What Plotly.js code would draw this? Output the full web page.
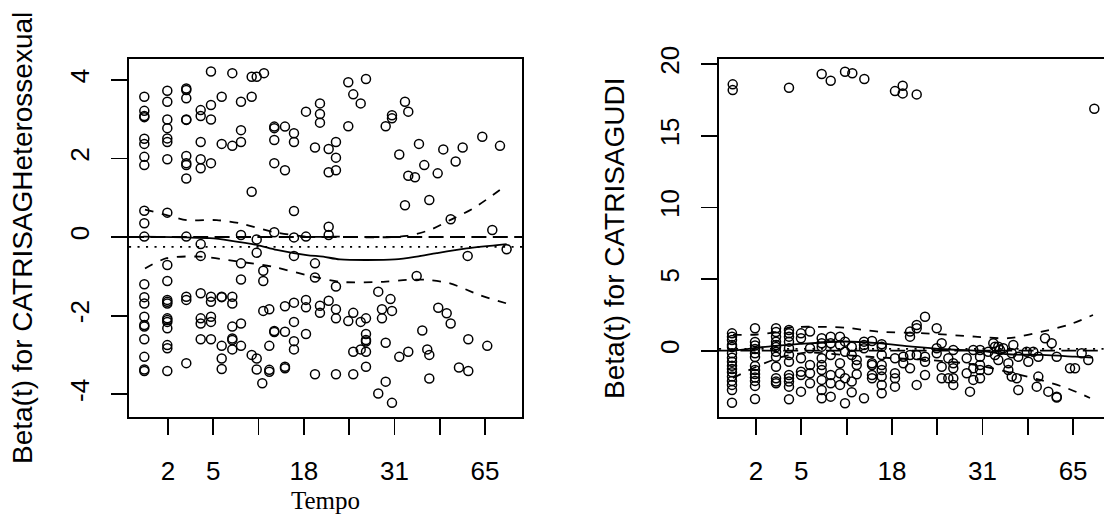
<!DOCTYPE html>
<html>
<head>
<meta charset="utf-8">
<script src="https://cdn.plot.ly/plotly-3.0.1.min.js"></script>
<style>html,body{margin:0;padding:0;background:#fff;}#chart{width:1104px;height:527px;}</style>
</head>
<body>
<div id="chart"></div>
<script>
// ---------- tick labels (time scale, km-transformed positions) ----------
const tickPos = [1, 2, 3, 4, 5, 6, 7, 8];
const tickLab = ["2", "5", "", "18", "", "31", "", "65"];

// ---------- Panel A: CATRISAGHeterossexual ----------
const colXA = [0.477,0.985,1.404,1.722,1.949,2.186,2.420,2.612,2.848,2.959,3.082,3.104,3.120,3.237,3.347,3.583,3.782,4.047,4.246,4.356,4.548,4.709,4.981,5.091,5.255,5.372,5.643,5.725,5.807,5.913,5.946,6.107,6.233,6.306,6.454,6.491,6.542,6.615,6.659,6.725,6.770,6.955,6.968,7.079,7.154,7.242,7.352,7.425,7.507,7.617,7.631,7.940,8.050,8.161,8.331,8.478];
const colYA = [
 [3.57,3.21,3.08,3.05,2.50,2.37,2.04,1.83,0.67,0.35,0.01,-1.20,-1.53,-1.69,-2.03,-2.24,-2.28,-2.60,-3.05,-3.37,-3.41],
 [3.72,3.44,2.99,2.77,2.51,2.42,1.98,0.62,-0.71,-1.12,-1.60,-1.65,-1.69,-2.07,-2.11,-2.16,-2.32,-2.75,-2.83,-3.41],
 [3.78,3.74,3.53,2.99,2.98,2.06,1.88,1.83,1.49,0.01,-1.52,-1.60,-3.21],
 [3.23,3.08,2.42,1.98,1.75,-0.18,-0.48,-1.43,-2.07,-2.20,-2.60],
 [4.21,3.36,2.99,1.88,-1.52,-1.65,-2.03,-2.16,-2.60],
 [3.57,2.37,-1.52,-1.53,-2.77,-3.09,-3.36],
 [4.17,2.32,-1.52,-1.69,-2.28,-2.58,-2.62,-2.86],
 [3.44,2.72,2.42,0.05,-0.67,-1.08,-2.20,-2.77],
 [4.08,3.57,1.15,-3.00],
 [4.08,-0.06,-0.40,-3.09,-3.37],
 [-3.72],
 [-0.86,-1.12,-1.88],
 [4.17],
 [-1.84,-2.77,-3.38,-3.43],
 [2.81,2.77,2.47,1.88,0.12,-2.39,-2.42],
 [2.81,1.70,-1.76,-2.41,-3.30,-3.34],
 [2.64,2.42,0.66,-0.01,-0.48,-1.67,-2.16,-2.65,-2.86],
 [3.19,0.01,-1.60,-1.79,-2.47],
 [2.28,-0.67,-1.03,-3.49],
 [3.40,3.13,2.91,-1.75,-1.93],
 [2.24,1.65,0.26,0.05,-1.62],
 [2.42,2.02,1.70,-1.26,-1.84,-2.07,-3.49],
 [3.94,2.82,-2.14],
 [3.63,-1.93,-2.92,-3.49],
 [3.40,-2.16,-2.86],
 [4.02,-2.07,-2.47,-2.62,-2.66,-2.92,-3.30],
 [-1.39,-3.98],
 [-1.84,-2.07],
 [2.82,-2.69,-3.68],
 [-1.58],
 [3.10,3.02,-1.88,-4.22],
 [2.10,-3.05],
 [3.44,0.81],
 [3.19,1.56,-2.92],
 [1.52],
 [-0.99],
 [2.37],
 [-2.38],
 [1.83],
 [-2.86],
 [0.94,-3.00,-3.60],
 [1.62],
 [-1.80],
 [2.23],
 [-1.94],
 [0.45,-2.20],
 [1.92],
 [-3.32],
 [2.28],
 [-0.48],
 [-2.60,-3.41],
 [2.55],
 [-2.77],
 [0.18],
 [2.32],
 [-0.31]
];
const fitXA   = [0.455,1.413,1.927,2.369,2.958,3.400,4.063,4.429,4.798,6.012,6.491,6.933,7.595,8.478];
const fitYA   = [0.01,-0.01,-0.03,-0.09,-0.20,-0.33,-0.46,-0.50,-0.57,-0.57,-0.50,-0.41,-0.29,-0.18];
const upXA    = [0.492,0.971,1.413,2.075,2.590,3.325,4.063,4.798,5.533,6.271,6.785,7.227,7.741,8.478];
const upYA    = [0.70,0.56,0.43,0.43,0.35,0.13,0.01,0.01,-0.01,0.03,0.18,0.43,0.73,1.32];
const loXA    = [0.492,0.971,1.707,2.590,3.325,4.063,4.798,5.754,6.271,6.712,7.227,7.889,8.478];
const loYA    = [-0.80,-0.54,-0.50,-0.63,-0.76,-0.97,-1.14,-1.14,-1.09,-1.09,-1.18,-1.48,-1.69];
const coefA = -0.25;

// ---------- Panel B: CATRISAGUDI ----------
const colXB = [0.470,0.486,0.978,1.442,1.728,1.993,2.192,2.450,2.649,2.854,2.965,3.113,3.126,3.223,3.384,3.391,3.561,3.775,4.068,4.238,4.252,4.400,4.547,4.731,4.989,5.099,5.245,5.355,5.651,5.724,5.797,5.945,6.128,6.238,6.276,6.349,6.386,6.459,6.570,6.645,6.680,6.755,6.790,6.976,7.011,7.121,7.197,7.232,7.380,7.453,7.528,7.638,7.932,8.042,8.190,8.335,8.468];
const colYB = [
 [1.21,0.98,0.75,0.40,0.26,-0.18,-0.49,-0.77,-1.05,-1.28,-1.51,-1.81,-2.11,-2.39,-2.74,-3.63],
 [18.59,18.19],
 [1.56,0.61,0.36,0.12,-0.18,-0.44,-1.07,-1.35,-1.63,-1.87,-2.11,-2.46,-3.37],
 [1.56,1.30,0.98,0.63,0.40,0.26,-0.07,-0.42,-1.12,-1.93,-2.16,-2.27],
 [18.35,1.44,1.21,0.98,0.63,0.17,-0.30,-0.77,-1.70,-1.93,-2.16,-2.51,-3.39],
 [1.21,0.87,-0.53,-1.47,-1.70,-2.86],
 [1.33,0.17,-1.00,-1.58,-2.27],
 [19.31,0.87,0.52,0.28,-0.53,-1.00,-1.35,-2.04,-2.74,-3.32],
 [18.84,0.98,0.52,-0.30,-1.70,-2.27,-3.21],
 [0.98,0.40,-0.88,-1.58,-2.39],
 [19.47,0.63,-0.07,-1.93,-3.67],
 [0.28,-0.30,-2.16,-2.90],
 [19.36],
 [-0.65,-1.00,-1.65],
 [0.63,0.40,0.17,-3.32],
 [18.96],
 [0.68,-0.88,-1.00,-1.70,-1.93],
 [0.45,0.28,-0.30,-1.00,-1.35,-1.81,-2.39,-2.97],
 [18.12,-0.53,-1.58,-1.93,-2.51],
 [18.49,17.96],
 [-0.42,-0.88],
 [1.33,0.98,-0.30,-1.23],
 [17.89,1.79,1.56,-0.30,-2.39],
 [2.37,-0.42,-0.77,-1.70],
 [1.56,0.17,-0.18],
 [0.52,-1.12,-1.93],
 [-0.53,-1.93],
 [0.05,-0.88,-1.23,-1.93,-2.39],
 [-0.53,-1.58],
 [-2.86],
 [0.05,-1.23,-2.04],
 [0.05,-0.42,-1.00,-1.35,-1.93],
 [-0.07,-1.35],
 [0.52],
 [0.28,-0.30],
 [0.28,-0.65],
 [0.05],
 [0.17],
 [-0.88,-1.35],
 [-0.18,-1.81],
 [0.40],
 [-1.93],
 [-0.42,-2.74],
 [-0.07],
 [-0.77],
 [-0.07],
 [-2.51],
 [-0.42,-1.81],
 [0.87],
 [-2.86],
 [0.52],
 [-0.42,-3.21,-3.27],
 [-1.23],
 [-1.23],
 [-0.18],
 [-0.65],
 [16.89]
];
const fitXB = [0.470,0.868,1.419,1.971,2.965,3.693,4.444,5.172,5.901,6.563,7.313,8.042,8.439];
const fitYB = [-0.02,0.15,0.33,0.47,0.64,0.52,0.28,0.10,0.00,-0.25,-0.30,-0.42,-0.49];
const upXB  = [0.492,1.022,1.419,1.751,2.192,2.965,3.693,4.731,5.834,6.563,7.313,7.887,8.439];
const upYB  = [1.10,1.13,1.30,1.62,1.67,1.61,1.33,1.21,0.98,0.87,1.33,1.79,2.49];
const loXB  = [0.492,1.044,1.574,2.148,3.031,3.958,4.841,5.724,6.386,6.673,7.269,7.865,8.373];
const loYB  = [-1.91,-1.07,-0.44,-0.13,-0.33,-0.51,-0.65,-0.93,-1.35,-1.58,-2.04,-2.62,-3.30];
const coefB = 0.12;

// ---------- build traces ----------
function flatten(xs, ys) {
  const X = [], Y = [];
  xs.forEach((x, i) => ys[i].forEach(v => { X.push(x); Y.push(v); }));
  return {X, Y};
}
const A = flatten(colXA, colYA);
const B = flatten(colXB, colYB);

const mk = {symbol: 'circle-open', size: 9, color: '#000', line: {width: 1.5, color: '#000'}};
const lw = 1.8;
function pts(d, xa, ya) { return {x: d.X, y: d.Y, xaxis: xa, yaxis: ya, type: 'scatter', mode: 'markers', marker: mk, hoverinfo: 'skip'}; }
function ln(x, y, xa, ya, dash) { return {x, y, xaxis: xa, yaxis: ya, type: 'scatter', mode: 'lines', line: {color: '#000', width: lw, dash: dash, shape: 'spline', smoothing: 0.8}, hoverinfo: 'skip'}; }

const traces = [
  pts(A, 'x', 'y'),
  ln(fitXA, fitYA, 'x', 'y', 'solid'),
  ln(upXA, upYA, 'x', 'y', '8.6px,8.6px'),
  ln(loXA, loYA, 'x', 'y', '8.6px,8.6px'),
  pts(B, 'x2', 'y2'),
  ln(fitXB, fitYB, 'x2', 'y2', 'solid'),
  ln(upXB, upYB, 'x2', 'y2', '8.6px,8.6px'),
  ln(loXB, loYB, 'x2', 'y2', '8.6px,8.6px')
];

const W = 1104, H = 527;
const tickFont = {family: 'Liberation Sans, Arial, sans-serif', size: 26, color: '#000'};
const common = {showgrid: false, zeroline: false, ticks: 'outside', ticklen: 16, tickwidth: lw, tickcolor: '#000',
  showline: true, linecolor: '#000', linewidth: lw, tickfont: tickFont, fixedrange: true};
const yDom = [1 - 417 / H, 1 - 59 / H];
const titleFont = {family: 'Liberation Sans, Arial, sans-serif', size: 28, color: '#000'};

const layout = {
  width: W, height: H, margin: {l: 0, r: 0, t: 0, b: 0}, paper_bgcolor: '#fff', plot_bgcolor: '#fff', showlegend: false,
  xaxis: Object.assign({}, common, {domain: [129 / W, 522 / W], range: [0.139, 8.817], tickmode: 'array', tickvals: tickPos, ticktext: tickLab, mirror: true, anchor: 'y', ticklabelstandoff: 14}),
  yaxis: Object.assign({}, common, {domain: yDom, range: [-4.58, 4.53], tickmode: 'array', tickvals: [-4, -2, 0, 2, 4], ticktext: ['-4', '-2', '0', '2', '4'], tickangle: -90, mirror: true, anchor: 'x', ticklabelstandoff: 12}),
  xaxis2: Object.assign({}, common, {domain: [719 / W, 1], range: [0.183, 8.682], tickmode: 'array', tickvals: tickPos, ticktext: tickLab, mirror: true, anchor: 'y2', ticklabelstandoff: 14}),
  yaxis2: Object.assign({}, common, {domain: yDom, range: [-4.63, 20.36], tickmode: 'array', tickvals: [0, 5, 10, 15, 20], ticktext: ['0', '5', '10', '15', '20'], tickangle: -90, mirror: false, anchor: 'x2', ticklabelstandoff: 12}),
  shapes: [
    {type: 'line', xref: 'x domain', yref: 'y', x0: 0, x1: 1, y0: 0, y1: 0, line: {color: '#000', width: lw, dash: '15px,6.4px'}},
    {type: 'line', xref: 'x domain', yref: 'y', x0: 0, x1: 1, y0: coefA, y1: coefA, line: {color: '#000', width: lw, dash: '2.1px,6.4px'}},
    {type: 'line', xref: 'x2 domain', yref: 'y2', x0: 0, x1: 1, y0: 0, y1: 0, line: {color: '#000', width: lw, dash: '15px,6.4px'}},
    {type: 'line', xref: 'x2 domain', yref: 'y2', x0: 0, x1: 1, y0: coefB, y1: coefB, line: {color: '#000', width: lw, dash: '2.1px,6.4px'}}
  ],
  annotations: [
    {text: 'Beta(t) for CATRISAGHeterossexual', xref: 'paper', yref: 'paper', x: 22 / W, y: (yDom[0] + yDom[1]) / 2, textangle: -90, showarrow: false, xanchor: 'center', yanchor: 'middle', font: titleFont},
    {text: 'Beta(t) for CATRISAGUDI', xref: 'paper', yref: 'paper', x: 614 / W, y: (yDom[0] + yDom[1]) / 2, textangle: -90, showarrow: false, xanchor: 'center', yanchor: 'middle', font: titleFont},
    {text: 'Tempo', xref: 'paper', yref: 'paper', x: 325.5 / W, y: 1 - 500 / H, showarrow: false, xanchor: 'center', yanchor: 'middle', font: {family: 'Liberation Serif, Times New Roman, serif', size: 25, color: '#000'}}
  ]
};

Plotly.newPlot('chart', traces, layout, {staticPlot: true, displayModeBar: false});
</script>
</body>
</html>
